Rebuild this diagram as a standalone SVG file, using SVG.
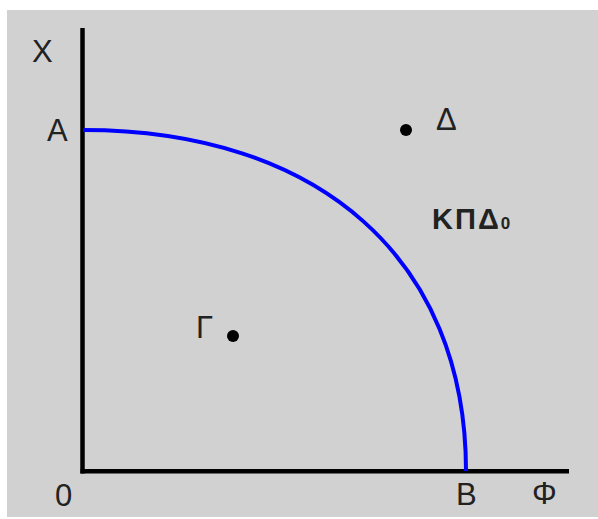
<svg xmlns="http://www.w3.org/2000/svg" width="598" height="519" viewBox="0 0 598 519">
<style>
.lbl{font-family:"Liberation Sans",Arial,sans-serif;font-size:31px;fill:#222;}
.bold{font-family:"Liberation Sans",Arial,sans-serif;font-weight:bold;font-size:29px;fill:#222;letter-spacing:2px;}
.axis{stroke:#000;stroke-width:4.5;fill:none;}
.dot{fill:#000;}
</style>
<rect x="0" y="0" width="598" height="519" fill="#fff"/>
<rect x="7" y="10" width="591" height="507" fill="#d1d1d1"/>
<g id="axes">
<line class="axis" x1="82.5" y1="28" x2="82.5" y2="473.5"/>
<line class="axis" x1="80.5" y1="471.3" x2="569" y2="471.3"/>
</g>
<g id="curve">
<path d="M83,130 C320,130 466,260 466,471" fill="none" stroke="#0000ff" stroke-width="4"/>
</g>
<g id="labels">
<text class="lbl" x="32" y="62">X</text>
<text class="lbl" x="47" y="141">A</text>
<text class="lbl" x="55" y="506">0</text>
<text class="lbl" x="456" y="505">B</text>
<text class="lbl" x="532" y="504">Φ</text>
</g>
<g id="point-gamma">
<text class="lbl" x="196" y="338">Γ</text>
<circle class="dot" cx="233" cy="336" r="6"/>
</g>
<g id="point-delta">
<text class="lbl" x="436" y="130">Δ</text>
<circle class="dot" cx="406" cy="130" r="6"/>
</g>
<g id="kpd">
<text class="bold" x="432" y="229">ΚΠΔ<tspan font-size="17" letter-spacing="0">0</tspan></text>
</g>
</svg>
